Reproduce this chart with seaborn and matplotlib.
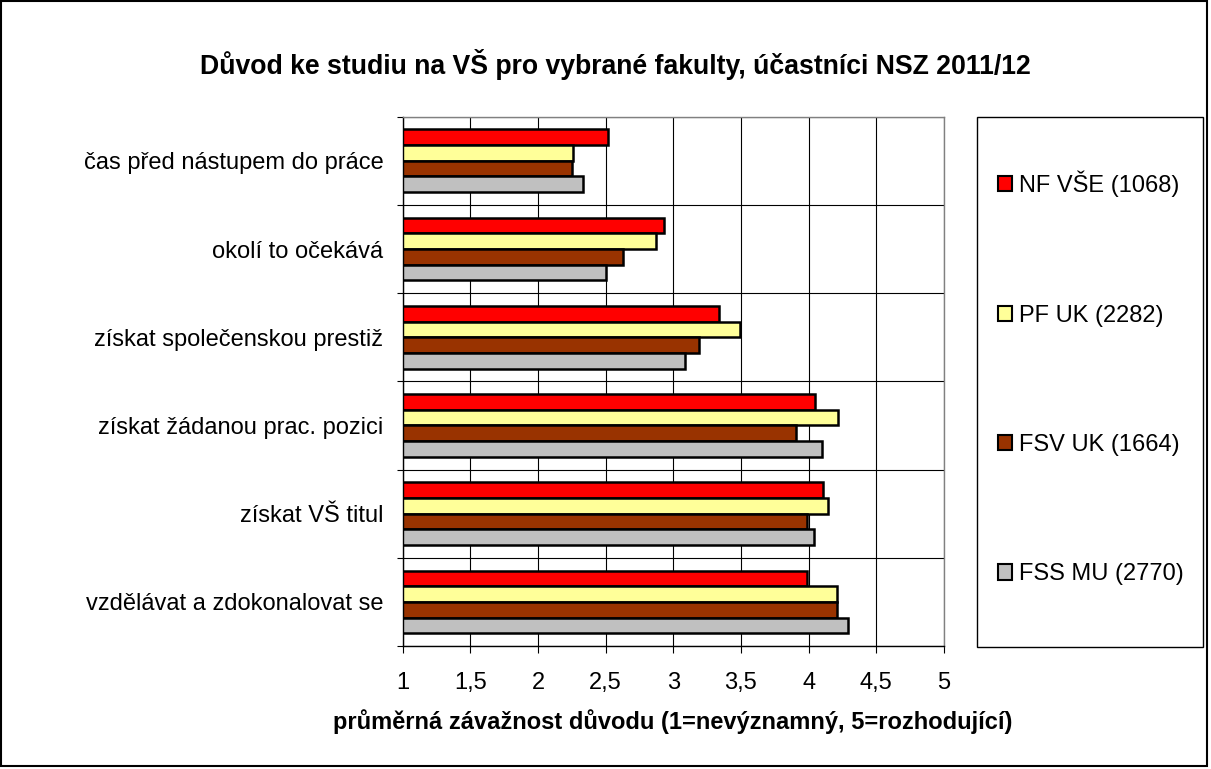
import numpy as np
import pandas as pd
import matplotlib
matplotlib.use("Agg")
import matplotlib.pyplot as plt
import seaborn as sns
from matplotlib.patches import Patch, Rectangle
from matplotlib.ticker import FixedLocator

# data
reasons = ["čas před nástupem do práce", "okolí to očekává",
           "získat společenskou prestiž", "získat žádanou prac. pozici",
           "získat VŠ titul", "vzdělávat a zdokonalovat se"]
faculties = ["NF VŠE (1068)", "PF UK (2282)", "FSV UK (1664)", "FSS MU (2770)"]
nf_vse = [2.52, 2.93, 3.34, 4.05, 4.11, 3.99]
pf_uk = [2.26, 2.87, 3.49, 4.22, 4.14, 4.21]
fsv_uk = [2.25, 2.63, 3.19, 3.91, 3.99, 4.21]
fss_mu = [2.33, 2.50, 3.09, 4.10, 4.04, 4.29]
colors = ["#FF0000", "#FFFF99", "#993300", "#C0C0C0"]
x_ticks = [1, 1.5, 2, 2.5, 3, 3.5, 4, 4.5, 5]
x_ticklabels = ["1", "1,5", "2", "2,5", "3", "3,5", "4", "4,5", "5"]
title = "Důvod ke studiu na VŠ pro vybrané fakulty, účastníci NSZ 2011/12"
xlabel = "průměrná závažnost důvodu (1=nevýznamný, 5=rozhodující)"

# long form table for seaborn
df = pd.DataFrame({
    "reason": reasons * 4,
    "faculty": np.repeat(faculties, len(reasons)),
    "value": nf_vse + pf_uk + fsv_uk + fss_mu,
})

sns.set_theme(style="white")
plt.rcParams["font.family"] = ["Liberation Sans", "DejaVu Sans"]
plt.rcParams["text.color"] = "black"
plt.rcParams["xtick.color"] = "black"
plt.rcParams["ytick.color"] = "black"

W, H = 1211, 769
fig = plt.figure(figsize=(W / 100, H / 100), dpi=100)
ax = fig.add_axes([402.7 / W, 1 - 646 / H, 541.2 / W, 529.3 / H])

sns.barplot(data=df, y="reason", x="value", hue="faculty", order=reasons,
            hue_order=faculties, palette=colors, width=0.71, orient="h",
            edgecolor="black", linewidth=1.8, saturation=1, legend=False, ax=ax)

ax.set_xlim(1, 5)
ax.set_ylim(len(reasons) - 0.5, -0.5)
ax.set_xticks(x_ticks)
ax.set_xticklabels(x_ticklabels)
ax.yaxis.set_minor_locator(FixedLocator(np.arange(-0.5, len(reasons), 1)))
ax.set_axisbelow(True)
ax.xaxis.grid(True, color="black", linewidth=0.8)
ax.yaxis.grid(True, which="minor", color="black", linewidth=0.8)
ax.yaxis.grid(False, which="major")

ax.tick_params(axis="x", which="major", direction="out", length=5, width=0.8,
               color="black", labelcolor="black", labelsize=17, pad=14,
               bottom=True)
ax.tick_params(axis="y", which="major", length=0, labelsize=17, pad=14,
               labelcolor="black")
ax.tick_params(axis="y", which="minor", direction="out", length=4, width=0.8,
               color="black", left=True)
ax.set_xlabel("")
ax.set_ylabel("")
for side in ["left", "bottom"]:
    ax.spines[side].set_color("black")
    ax.spines[side].set_linewidth(1.0)
for side in ["top", "right"]:
    ax.spines[side].set_color("#808080")
    ax.spines[side].set_linewidth(1.0)

fig.text(615 / W, 1 - 64 / H, title, ha="center", va="center",
         fontsize=19.2, fontweight="bold", color="black")
fig.text(673 / W, 1 - 722 / H, xlabel, ha="center", va="center",
         fontsize=17, fontweight="bold", color="black")

# legend box on the right
fig.patches.append(Rectangle((976.7 / W, 1 - 646.7 / H), 226 / W, 529.7 / H,
                             transform=fig.transFigure, fill=False,
                             edgecolor="black", linewidth=1.0))
handles = [Patch(facecolor=c, edgecolor="black", linewidth=1.5) for c in colors]
fig.legend(handles, faculties, loc="center left",
           bbox_to_anchor=(997.7 / W, 1 - 378 / H), frameon=False,
           fontsize=17, labelcolor="black", handlelength=0.62,
           handleheight=0.62, handletextpad=0.3, labelspacing=4.55,
           borderpad=0, borderaxespad=0)

# outer frame of the whole chart
fig.patches.append(Rectangle((1 / W, 3 / H), 1206 / W, 765 / H,
                             transform=fig.transFigure, fill=False,
                             edgecolor="black", linewidth=1.5))

fig.savefig("out.png", dpi=100)
